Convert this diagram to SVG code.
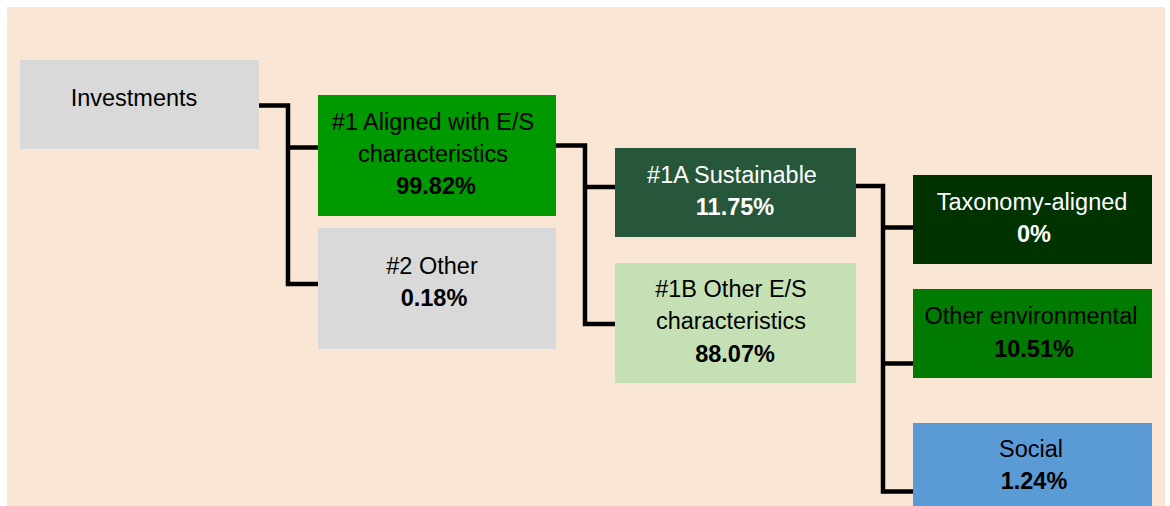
<svg xmlns="http://www.w3.org/2000/svg" width="1170" height="506" viewBox="0 0 1170 506">
<style>
text{font-family:"Liberation Sans",Arial,sans-serif;font-size:23.5px;text-anchor:middle;fill:#000}
.b{font-weight:bold}
.w{fill:#fff}
.c{fill:none;stroke:#000;stroke-width:4.5;stroke-linejoin:miter}
</style>
<rect x="0" y="0" width="1170" height="506" fill="#fff"/>
<rect x="7" y="7" width="1158" height="499" fill="#FAE6D4"/>
<g id="connectors">
<path class="c" d="M259 105.5H288V284H318M288 147.5H318"/>
<path class="c" d="M556 145.5H585V324H616M585 187H616"/>
<path class="c" d="M856 186H883V491.5H913M883 227.5H913M883 363.5H913"/>
</g>
<g id="investments"><rect x="20" y="60" width="239" height="89" fill="#D9D9D9"/><text x="134" y="106">Investments</text></g>
<g id="aligned"><rect x="318" y="95" width="238" height="121" fill="#009900"/><text x="433" y="130">#1 Aligned with E/S</text><text x="433" y="162">characteristics</text><text class="b" x="436" y="194">99.82%</text></g>
<g id="other"><rect x="318" y="228" width="238" height="121" fill="#D9D9D9"/><text x="432" y="274">#2 Other</text><text class="b" x="434" y="306">0.18%</text></g>
<g id="sustainable"><rect x="615" y="148" width="241" height="89" fill="#27573A"/><text class="w" x="732" y="183">#1A Sustainable</text><text class="b w" x="735" y="215">11.75%</text></g>
<g id="otheres"><rect x="615" y="263" width="241" height="120" fill="#C5E0B4"/><text x="731" y="297">#1B Other E/S</text><text x="731" y="329">characteristics</text><text class="b" x="735" y="362">88.07%</text></g>
<g id="taxonomy"><rect x="913" y="175" width="239" height="89" fill="#003300"/><text class="w" x="1032" y="210">Taxonomy-aligned</text><text class="b w" x="1034" y="242">0%</text></g>
<g id="otherenv"><rect x="913" y="289" width="239" height="89" fill="#007A00"/><text x="1031" y="324">Other environmental</text><text class="b" x="1034" y="357">10.51%</text></g>
<g id="social"><rect x="913" y="423" width="239" height="83" fill="#5B9BD5"/><text x="1031" y="457">Social</text><text class="b" x="1034" y="489">1.24%</text></g>
</svg>
